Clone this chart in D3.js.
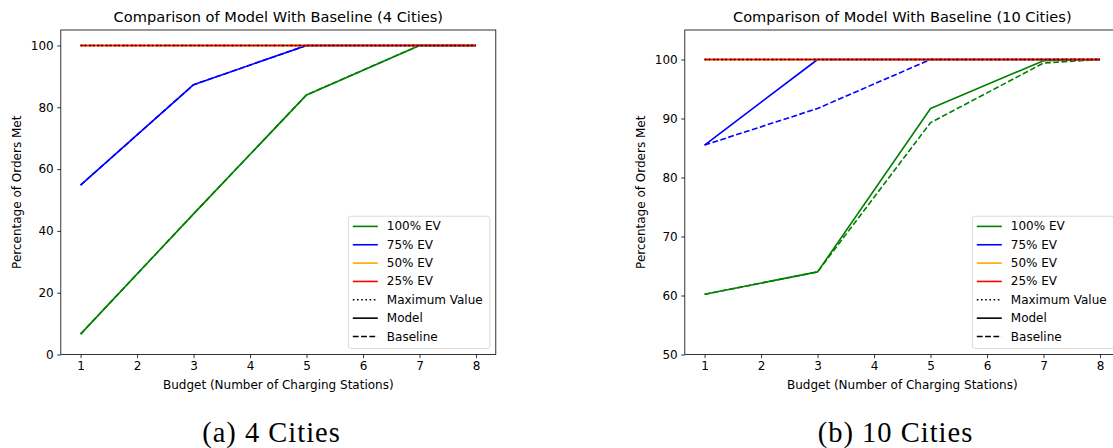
<!DOCTYPE html>
<html>
<head>
<meta charset="utf-8">
<script src="https://cdn.jsdelivr.net/npm/d3@7"></script>
<style>
  html, body { margin: 0; padding: 0; background: #fff; }
  svg { display: block; }
  text { font-family: "DejaVu Sans", sans-serif; fill: #000; }
</style>
</head>
<body>
<svg id="chart" width="1113" height="448"></svg>
<script>
// ---------- data ----------
const budgets = [1, 3, 5, 7, 8];
const xTicks = [1, 2, 3, 4, 5, 6, 7, 8];

// 4 cities
const a_ev100_model    = [6.6, 45.5, 84.0, 100, 100];
const a_ev100_baseline = [6.6, 45.5, 84.0, 100, 100];
const a_ev75_model     = [54.8, 87.3, 100, 100, 100];
const a_ev75_baseline  = [54.8, 87.3, 100, 100, 100];
const a_ev50_model     = [100, 100, 100, 100, 100];
const a_ev50_baseline  = [100, 100, 100, 100, 100];
const a_ev25_model     = [100, 100, 100, 100, 100];
const a_ev25_baseline  = [100, 100, 100, 100, 100];
const a_max            = [100, 100, 100, 100, 100];
const a_yTicks = [0, 20, 40, 60, 80, 100];

// 10 cities
const b_ev100_model    = [60.2, 64.0, 91.7, 99.8, 100];
const b_ev100_baseline = [60.2, 64.0, 89.3, 99.4, 100];
const b_ev75_model     = [85.5, 100, 100, 100, 100];
const b_ev75_baseline  = [85.5, 91.7, 100, 100, 100];
const b_ev50_model     = [100, 100, 100, 100, 100];
const b_ev50_baseline  = [100, 100, 100, 100, 100];
const b_ev25_model     = [100, 100, 100, 100, 100];
const b_ev25_baseline  = [100, 100, 100, 100, 100];
const b_max            = [100, 100, 100, 100, 100];
const b_yTicks = [50, 60, 70, 80, 90, 100];

const seriesNames = ["100% EV", "75% EV", "50% EV", "25% EV"];
const seriesColors = ["green", "blue", "orange", "red"];
const styleNames = ["Maximum Value", "Model", "Baseline"];

const panels = [
  {
    title: "Comparison of Model With Baseline (4 Cities)",
    caption: "(a) 4 Cities",
    left: 60.8, right: 495.8, top: 30, bottom: 354.5,
    yDomain: [0, 105], yTicks: a_yTicks,
    model: [a_ev100_model, a_ev75_model, a_ev50_model, a_ev25_model],
    baseline: [a_ev100_baseline, a_ev75_baseline, a_ev50_baseline, a_ev25_baseline],
    max: a_max,
    captionX: 271.5
  },
  {
    title: "Comparison of Model With Baseline (10 Cities)",
    caption: "(b) 10 Cities",
    left: 684.8, right: 1119.8, top: 30, bottom: 354.5,
    yDomain: [50, 105], yTicks: b_yTicks,
    model: [b_ev100_model, b_ev75_model, b_ev50_model, b_ev25_model],
    baseline: [b_ev100_baseline, b_ev75_baseline, b_ev50_baseline, b_ev25_baseline],
    max: b_max,
    captionX: 895.5
  }
];

const svg = d3.select("#chart");
const LW = 1.6;

panels.forEach((p, pi) => {
  const g = svg.append("g");
  const clipId = "clip" + pi;
  svg.append("defs").append("clipPath").attr("id", clipId)
    .append("rect").attr("x", p.left).attr("y", p.top)
    .attr("width", p.right - p.left).attr("height", p.bottom - p.top);

  const x = d3.scaleLinear().domain([0.65, 8.35]).range([p.left, p.right]);
  const y = d3.scaleLinear().domain(p.yDomain).range([p.bottom, p.top]);

  const line = d3.line().x((d, i) => x(budgets[i])).y(d => y(d));

  const plot = g.append("g").attr("clip-path", `url(#${clipId})`);
  p.model.forEach((vals, si) => {
    plot.append("path").datum(vals).attr("d", line)
      .attr("fill", "none").attr("stroke", seriesColors[si])
      .attr("stroke-width", LW).attr("stroke-linejoin", "round");
    plot.append("path").datum(p.baseline[si]).attr("d", line)
      .attr("fill", "none").attr("stroke", seriesColors[si])
      .attr("stroke-width", LW).attr("stroke-dasharray", "5.8,2.5");
  });
  plot.append("path").datum(p.max).attr("d", line)
    .attr("fill", "none").attr("stroke", "#000")
    .attr("stroke-width", LW).attr("stroke-dasharray", "1.6,2.6");

  // axes
  const xAxis = d3.axisBottom(x).tickValues(xTicks).tickFormat(d3.format("d"))
    .tickSize(3.6).tickPadding(3.5);
  const xg = g.append("g").attr("transform", `translate(0,${p.bottom})`).call(xAxis);
  const yAxis = d3.axisLeft(y).tickValues(p.yTicks).tickFormat(d3.format("d"))
    .tickSize(3.6).tickPadding(3.5);
  const yg = g.append("g").attr("transform", `translate(${p.left},0)`).call(yAxis);
  [xg, yg].forEach(ax => {
    ax.select(".domain").remove();
    ax.selectAll(".tick line").attr("stroke", "#000").attr("stroke-width", 0.8);
    ax.selectAll(".tick text").attr("font-size", 12).attr("font-family", "DejaVu Sans").attr("fill", "#000");
  });

  g.append("rect").attr("x", p.left).attr("y", p.top)
    .attr("width", p.right - p.left).attr("height", p.bottom - p.top)
    .attr("fill", "none").attr("stroke", "#000").attr("stroke-width", 0.8);

  const cx = (p.left + p.right) / 2;
  g.append("text").attr("x", cx).attr("y", 16.5)
    .attr("text-anchor", "middle").attr("dominant-baseline", "central")
    .attr("font-size", 14.6).text(p.title);
  g.append("text").attr("x", cx).attr("y", 385)
    .attr("text-anchor", "middle").attr("dominant-baseline", "central")
    .attr("font-size", 12).text("Budget (Number of Charging Stations)");
  const ylx = p.left - 44;
  const yly = (p.top + p.bottom) / 2;
  g.append("text").attr("transform", `translate(${ylx},${yly}) rotate(-90)`)
    .attr("text-anchor", "middle").attr("dominant-baseline", "central")
    .attr("font-size", 12).text("Percentage of Orders Met");

  // legend
  const lw = 141.4, lh = 132.3;
  const lx = p.right - 6 - lw, ly = p.bottom - 6 - lh;
  const lg = g.append("g");
  lg.append("rect").attr("x", lx).attr("y", ly).attr("width", lw).attr("height", lh)
    .attr("rx", 2.5).attr("fill", "#fff").attr("fill-opacity", 0.8)
    .attr("stroke", "#d6d6d6").attr("stroke-width", 0.9);
  const entries = seriesNames.map((n, i) => ({ label: n, color: seriesColors[i], dash: null }))
    .concat([
      { label: styleNames[0], color: "#000", dash: "1.6,2.6" },
      { label: styleNames[1], color: "#000", dash: null },
      { label: styleNames[2], color: "#000", dash: "5.8,2.5" }
    ]);
  entries.forEach((e, i) => {
    const ry = ly + 10.2 + i * 18.35;
    const h = lg.append("line").attr("x1", lx + 4.4).attr("x2", lx + 29.4)
      .attr("y1", ry).attr("y2", ry).attr("stroke", e.color).attr("stroke-width", LW);
    if (e.dash) h.attr("stroke-dasharray", e.dash);
    lg.append("text").attr("x", lx + 38.4).attr("y", ry)
      .attr("dominant-baseline", "central").attr("font-size", 12).text(e.label);
  });

  // caption
  svg.append("text").attr("x", p.captionX).attr("y", 441.8)
    .attr("text-anchor", "middle")
    .attr("font-size", 28.5)
    .attr("style", "font-family: 'Liberation Serif', serif; letter-spacing: 1px")
    .text(p.caption);
});
</script>
</body>
</html>
